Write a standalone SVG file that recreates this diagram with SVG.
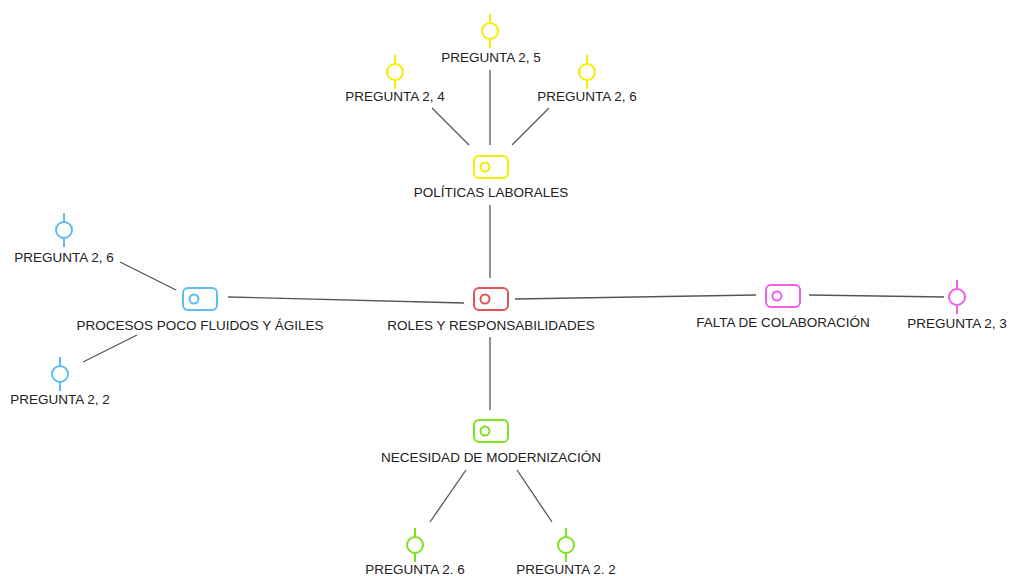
<svg xmlns="http://www.w3.org/2000/svg" width="1010" height="576" viewBox="0 0 1010 576">
  <style>
    .bg { fill: #ffffff; }
    .lbl { font-family: "Liberation Sans", Arial, sans-serif; font-size: 13.5px; fill: #222222; text-anchor: middle; }
    .edge { stroke: #555555; stroke-width: 1.3; fill: none; }
    .ic { fill: none; stroke-width: 2; }
    .yellow { stroke: #f2ef00; }
    .red { stroke: #e05454; }
    .blue { stroke: #5bbdf0; }
    .magenta { stroke: #ef5ded; }
    .green { stroke: #7ee21e; }
  </style>
  <defs>
    <!-- topic badge: rounded tag with a small ring -->
    <g id="badge">
      <rect x="-17" y="-11" width="34" height="22" rx="5" ry="5"/>
      <circle cx="-6" cy="0" r="4.5"/>
    </g>
    <!-- leaf marker: ring on a vertical stem -->
    <g id="pin">
      <line x1="0" y1="-17" x2="0" y2="-8"/>
      <circle cx="0" cy="0" r="8"/>
      <line x1="0" y1="8" x2="0" y2="17"/>
    </g>
  </defs>
  <rect class="bg" x="0" y="0" width="1010" height="576"/>

  <g id="connectors">
    <line class="edge" x1="490" y1="70" x2="490" y2="145"/>
    <line class="edge" x1="432" y1="108" x2="469" y2="145"/>
    <line class="edge" x1="549" y1="108" x2="512" y2="145"/>
    <line class="edge" x1="490" y1="205" x2="490" y2="278"/>
    <line class="edge" x1="228" y1="297" x2="464" y2="303"/>
    <line class="edge" x1="515" y1="299" x2="756" y2="295"/>
    <line class="edge" x1="490" y1="337" x2="490" y2="410"/>
    <line class="edge" x1="809" y1="295" x2="944" y2="297"/>
    <line class="edge" x1="120" y1="262" x2="176" y2="290"/>
    <line class="edge" x1="83" y1="362" x2="137" y2="335"/>
    <line class="edge" x1="466" y1="470" x2="430" y2="522"/>
    <line class="edge" x1="517" y1="470" x2="552" y2="522"/>
  </g>

  <g id="roles">
    <use href="#badge" class="ic red" x="491" y="299"/>
    <text class="lbl" x="491" y="330">ROLES Y RESPONSABILIDADES</text>
  </g>
  <g id="politicas">
    <use href="#badge" class="ic yellow" x="491" y="167"/>
    <text class="lbl" x="491" y="197">POLÍTICAS LABORALES</text>
  </g>
  <g id="procesos">
    <use href="#badge" class="ic blue" x="200" y="299"/>
    <text class="lbl" x="200" y="330">PROCESOS POCO FLUIDOS Y ÁGILES</text>
  </g>
  <g id="colaboracion">
    <use href="#badge" class="ic magenta" x="783" y="296"/>
    <text class="lbl" x="783" y="327">FALTA DE COLABORACIÓN</text>
  </g>
  <g id="modernizacion">
    <use href="#badge" class="ic green" x="491" y="431"/>
    <text class="lbl" x="491" y="462">NECESIDAD DE MODERNIZACIÓN</text>
  </g>

  <g id="p25">
    <use href="#pin" class="ic yellow" x="490" y="31"/>
    <text class="lbl" x="491" y="62">PREGUNTA 2, 5</text>
  </g>
  <g id="p24">
    <use href="#pin" class="ic yellow" x="395" y="72"/>
    <text class="lbl" x="395" y="101">PREGUNTA 2, 4</text>
  </g>
  <g id="p26a">
    <use href="#pin" class="ic yellow" x="587" y="72"/>
    <text class="lbl" x="587" y="101">PREGUNTA 2, 6</text>
  </g>
  <g id="p26b">
    <use href="#pin" class="ic blue" x="64" y="230"/>
    <text class="lbl" x="64" y="262">PREGUNTA 2, 6</text>
  </g>
  <g id="p22a">
    <use href="#pin" class="ic blue" x="60" y="374"/>
    <text class="lbl" x="60" y="404">PREGUNTA 2, 2</text>
  </g>
  <g id="p23">
    <use href="#pin" class="ic magenta" x="957" y="297"/>
    <text class="lbl" x="957" y="328">PREGUNTA 2, 3</text>
  </g>
  <g id="p26c">
    <use href="#pin" class="ic green" x="415" y="545"/>
    <text class="lbl" x="415" y="574">PREGUNTA 2. 6</text>
  </g>
  <g id="p22b">
    <use href="#pin" class="ic green" x="566" y="545"/>
    <text class="lbl" x="566" y="574">PREGUNTA 2. 2</text>
  </g>
</svg>
